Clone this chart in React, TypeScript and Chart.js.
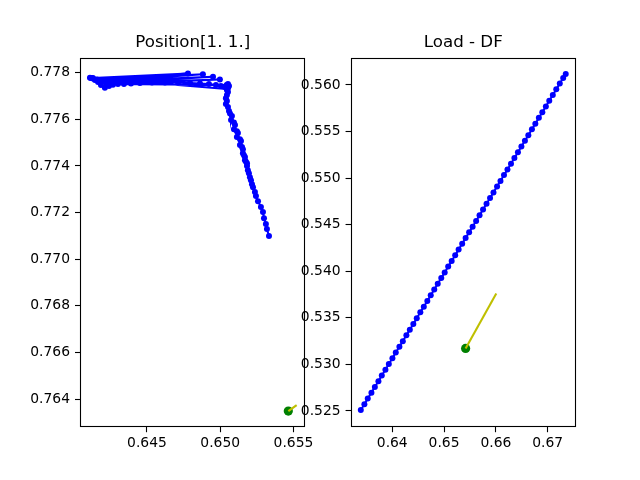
import React, { useEffect, useRef } from 'react';
import { Chart, registerables } from 'chart.js';
Chart.register(...registerables);

// ---- Left panel: Position[1. 1.] ----
const posX = [
  0.64111, 0.64118, 0.64131, 0.64145, 0.64166, 0.64186, 0.64213, 0.64241, 0.64268, 0.64302,
  0.64343, 0.64391, 0.64452, 0.64534, 0.64623, 0.64712, 0.64794, 0.64862, 0.64923, 0.64971,
  0.65005, 0.65032, 0.65046,
  0.64131, 0.64780, 0.64159, 0.64882, 0.64186, 0.64951, 0.64220, 0.64998, 0.64261, 0.65044,
  0.65053, 0.65060, 0.65053, 0.65046, 0.65053, 0.65046, 0.65039, 0.65046, 0.65039, 0.65053,
  0.65060, 0.65067, 0.65080, 0.65074, 0.65094, 0.65101, 0.65094, 0.65114, 0.65121, 0.65114,
  0.65135, 0.65142, 0.65135, 0.65149, 0.65155, 0.65155, 0.65162, 0.65169, 0.65169, 0.65176,
  0.65183, 0.65183, 0.65189, 0.65196, 0.65203, 0.65210, 0.65217, 0.65224, 0.65237, 0.65244,
  0.65258, 0.65278, 0.65292, 0.65299, 0.65312, 0.65319, 0.65333,
];
const posY = [
  0.77779, 0.77777, 0.77775, 0.77769, 0.77760, 0.77747, 0.77736, 0.77743, 0.77749, 0.77752,
  0.77752, 0.77754, 0.77756, 0.77758, 0.77758, 0.77758, 0.77756, 0.77754, 0.77752, 0.77747,
  0.77743, 0.77739, 0.77730,
  0.77777, 0.77797, 0.77771, 0.77794, 0.77764, 0.77783, 0.77756, 0.77771, 0.77752, 0.77747,
  0.77752, 0.77743, 0.77734, 0.77726, 0.77717, 0.77704, 0.77691, 0.77679, 0.77666, 0.77653,
  0.77636, 0.77625, 0.77614, 0.77597, 0.77587, 0.77576, 0.77558, 0.77549, 0.77541, 0.77524,
  0.77515, 0.77507, 0.77490, 0.77481, 0.77472, 0.77455, 0.77446, 0.77438, 0.77425, 0.77418,
  0.77412, 0.77400, 0.77382, 0.77369, 0.77352, 0.77339, 0.77322, 0.77309, 0.77288, 0.77271,
  0.77249, 0.77224, 0.77202, 0.77176, 0.77151, 0.77129, 0.77099,
];
const posMarkerX = [0.65465];
const posMarkerY = [0.76348];
const posArrowX = [0.65465, 0.65522];
const posArrowY = [0.76348, 0.76374];
const posXTicks = [0.645, 0.65, 0.655];
const posYTicks = [0.764, 0.766, 0.768, 0.77, 0.772, 0.774, 0.776, 0.778];
const posXRange = [0.64043, 0.65582];
const posYRange = [0.76279, 0.77865];

// ---- Right panel: Load - DF ----
const loadX = [
  0.63393, 0.63462, 0.63527, 0.63598, 0.63664, 0.63733, 0.63798, 0.63868, 0.63934, 0.64003,
  0.64068, 0.64138, 0.64204, 0.64273, 0.64339, 0.64407, 0.64473, 0.64542, 0.64609, 0.64677,
  0.64743, 0.64811, 0.64878, 0.64946, 0.65012, 0.65080, 0.65147, 0.65215, 0.65281, 0.65350,
  0.65416, 0.65484, 0.65551, 0.65619, 0.65685, 0.65753, 0.65820, 0.65888, 0.65954, 0.66023,
  0.66089, 0.66157, 0.66224, 0.66292, 0.66358, 0.66426, 0.66493, 0.66561, 0.66627, 0.66696,
  0.66762, 0.66830, 0.66897, 0.66965, 0.67031, 0.67099, 0.67166, 0.67234, 0.67300, 0.67349,
];
const loadY = [
  0.52510, 0.52572, 0.52635, 0.52697, 0.52757, 0.52820, 0.52880, 0.52943, 0.53004, 0.53066,
  0.53127, 0.53190, 0.53250, 0.53313, 0.53373, 0.53435, 0.53496, 0.53559, 0.53619, 0.53681,
  0.53742, 0.53804, 0.53865, 0.53927, 0.53988, 0.54050, 0.54111, 0.54173, 0.54233, 0.54296,
  0.54356, 0.54419, 0.54479, 0.54541, 0.54602, 0.54664, 0.54725, 0.54787, 0.54847, 0.54910,
  0.54970, 0.55033, 0.55093, 0.55155, 0.55216, 0.55278, 0.55339, 0.55401, 0.55461, 0.55524,
  0.55584, 0.55647, 0.55707, 0.55769, 0.55830, 0.55892, 0.55953, 0.56015, 0.56075, 0.56118,
];
const loadMarkerX = [0.65416];
const loadMarkerY = [0.53172];
const loadArrowX = [0.65416, 0.66008];
const loadArrowY = [0.53172, 0.53762];
const loadXTicks = [0.64, 0.65, 0.66, 0.67];
const loadYTicks = [0.525, 0.53, 0.535, 0.54, 0.545, 0.55, 0.555, 0.56];
const loadXRange = [0.63195, 0.67547];
const loadYRange = [0.52326, 0.56294];

const FONT = 'DejaVu Sans';

const pts = (xs: number[], ys: number[]) => xs.map((x, i) => ({ x, y: ys[i] }));

const boxPlugin = {
  id: 'axesBox',
  afterDraw(chart: any) {
    const { ctx, chartArea } = chart;
    ctx.save();
    ctx.strokeStyle = '#000';
    ctx.lineWidth = 1.1;
    const l = Math.round(chartArea.left) + 0.5;
    const t = Math.round(chartArea.top) + 0.5;
    const r = Math.round(chartArea.right) - 0.5;
    const b = Math.round(chartArea.bottom) - 0.5;
    ctx.strokeRect(l, t, r - l, b - t);
    ctx.restore();
  },
};

function makeConfig(opts: {
  title: string;
  lineX: number[]; lineY: number[];
  markX: number[]; markY: number[];
  arrX: number[]; arrY: number[];
  xTicks: number[]; yTicks: number[];
  xRange: number[]; yRange: number[];
  xDec: number; yDec: number;
  padLeft: number; padRight: number; yWidth: number;
}) {
  const tickFont = { family: FONT, size: 13.89 };
  const grid = {
    drawOnChartArea: false,
    drawTicks: true,
    tickLength: 5,
    tickColor: '#000',
    tickWidth: 1.1,
  };
  return {
    type: 'scatter',
    data: {
      datasets: [
        {
          data: pts(opts.arrX, opts.arrY),
          showLine: true,
          borderColor: '#bfbf00',
          borderWidth: 2.1,
          pointRadius: 0,
        },
        {
          data: pts(opts.markX, opts.markY),
          showLine: false,
          backgroundColor: '#008000',
          borderColor: '#008000',
          pointRadius: 4.6,
          pointBorderWidth: 0,
        },
        {
          data: pts(opts.lineX, opts.lineY),
          showLine: true,
          borderColor: '#0000ff',
          backgroundColor: '#0000ff',
          borderWidth: 2,
          pointRadius: 3,
          pointBorderWidth: 0,
          pointBackgroundColor: '#0000ff',
        },
      ],
    },
    options: {
      animation: false,
      responsive: false,
      events: [],
      layout: { padding: { left: opts.padLeft, right: opts.padRight, top: 0, bottom: 0 } },
      plugins: {
        legend: { display: false },
        tooltip: { enabled: false },
        title: {
          display: true,
          text: opts.title,
          fullSize: false,
          color: '#000',
          font: { family: FONT, size: 16.67, weight: 'normal', lineHeight: 1.2 },
          padding: { top: 33, bottom: 4.6 },
        },
      },
      scales: {
        x: {
          type: 'linear',
          min: opts.xRange[0],
          max: opts.xRange[1],
          afterBuildTicks: (s: any) => { s.ticks = opts.xTicks.map((v) => ({ value: v })); },
          afterFit: (s: any) => { s.height = 52.8; },
          ticks: {
            callback: (v: any) => Number(v).toFixed(opts.xDec),
            color: '#000',
            font: tickFont,
            maxRotation: 0,
            autoSkip: false,
            padding: 3,
          },
          grid,
          border: { display: false },
        },
        y: {
          type: 'linear',
          min: opts.yRange[0],
          max: opts.yRange[1],
          afterBuildTicks: (s: any) => { s.ticks = opts.yTicks.map((v) => ({ value: v })); },
          afterFit: (s: any) => { s.width = opts.yWidth; },
          ticks: {
            callback: (v: any) => Number(v).toFixed(opts.yDec),
            color: '#000',
            font: tickFont,
            autoSkip: false,
            padding: 5,
          },
          grid,
          border: { display: false },
        },
      },
    },
    plugins: [boxPlugin],
  };
}

export default function App() {
  const leftRef = useRef<HTMLCanvasElement>(null);
  const rightRef = useRef<HTMLCanvasElement>(null);

  useEffect(() => {
    const left = new Chart(leftRef.current as HTMLCanvasElement, makeConfig({
      title: 'Position[1. 1.]',
      lineX: posX, lineY: posY,
      markX: posMarkerX, markY: posMarkerY,
      arrX: posArrowX, arrY: posArrowY,
      xTicks: posXTicks, yTicks: posYTicks,
      xRange: posXRange, yRange: posYRange,
      xDec: 3, yDec: 3,
      padLeft: 0, padRight: 640 - 305.45, yWidth: 80,
    }) as any);
    const right = new Chart(rightRef.current as HTMLCanvasElement, makeConfig({
      title: 'Load - DF',
      lineX: loadX, lineY: loadY,
      markX: loadMarkerX, markY: loadMarkerY,
      arrX: loadArrowX, arrY: loadArrowY,
      xTicks: loadXTicks, yTicks: loadYTicks,
      xRange: loadXRange, yRange: loadYRange,
      xDec: 2, yDec: 3,
      padLeft: 350.55 - 60, padRight: 64, yWidth: 60,
    }) as any);
    return () => {
      left.destroy();
      right.destroy();
    };
  }, []);

  const canvasStyle: React.CSSProperties = {
    position: 'absolute',
    left: 0,
    top: 0,
    width: 640,
    height: 480,
  };

  return (
    <div style={{ position: 'absolute', left: 0, top: 0, width: 640, height: 480, background: '#fff' }}>
      <canvas ref={leftRef} width={640} height={480} style={canvasStyle} />
      <canvas ref={rightRef} width={640} height={480} style={canvasStyle} />
    </div>
  );
}
